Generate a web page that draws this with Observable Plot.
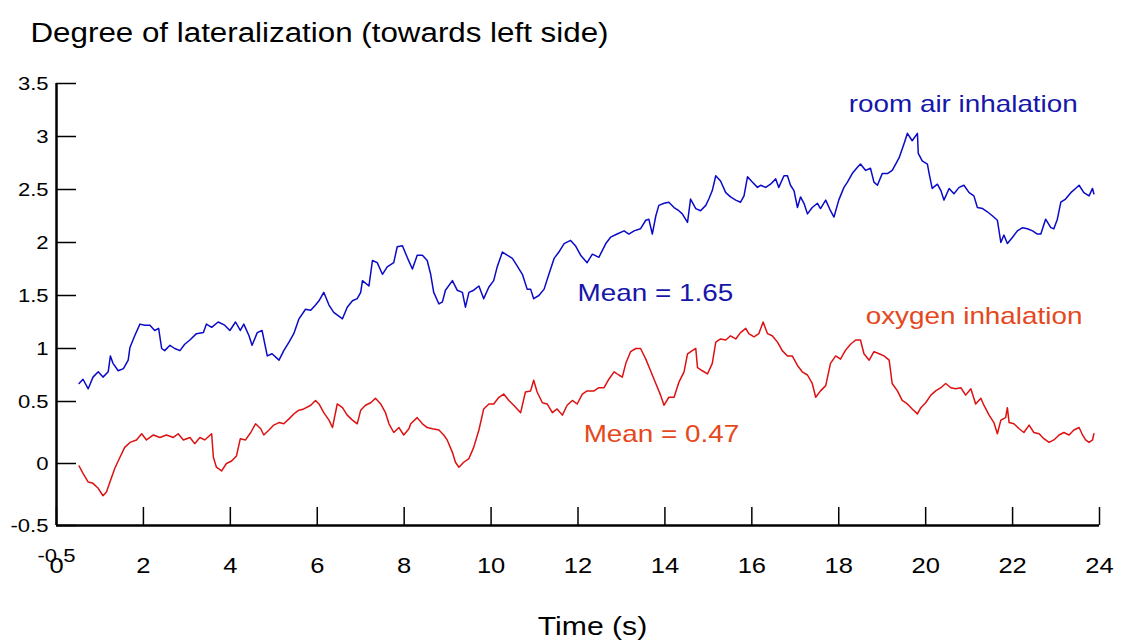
<!DOCTYPE html>
<html>
<head>
<meta charset="utf-8">
<script src="https://cdn.jsdelivr.net/npm/d3@7"></script>
<script src="https://cdn.jsdelivr.net/npm/@observablehq/plot@0.6"></script>
<style>
  body { margin: 0; background: #fff; }
  svg { display: block; }
</style>
</head>
<body>
<div id="chart"></div>
<script>
// ---- data ----
const roomAirTime = [0.52,0.61,0.73,0.84,0.96,1.07,1.19,1.24,1.30,1.42,1.54,1.65,1.69,1.80,1.92,2.03,2.15,2.26,2.35,2.42,2.49,2.61,2.72,2.84,2.95,3.07,3.22,3.38,3.45,3.57,3.72,3.87,3.99,4.12,4.23,4.31,4.43,4.50,4.62,4.73,4.85,4.96,5.12,5.23,5.35,5.46,5.58,5.73,5.85,5.96,6.04,6.15,6.27,6.38,6.58,6.69,6.81,6.92,7.00,7.04,7.19,7.27,7.38,7.50,7.61,7.76,7.84,7.96,8.07,8.19,8.30,8.42,8.53,8.61,8.68,8.80,8.88,8.95,9.11,9.22,9.34,9.41,9.49,9.60,9.72,9.83,9.95,10.06,10.14,10.26,10.37,10.49,10.60,10.72,10.83,10.91,10.98,11.10,11.22,11.33,11.45,11.56,11.68,11.83,11.94,12.06,12.21,12.33,12.48,12.64,12.75,12.90,13.06,13.17,13.29,13.44,13.56,13.63,13.71,13.79,13.86,13.98,14.09,14.21,14.32,14.40,14.52,14.59,14.71,14.82,14.94,15.01,15.09,15.17,15.28,15.40,15.51,15.63,15.74,15.82,15.90,16.01,16.13,16.20,16.32,16.43,16.55,16.62,16.74,16.82,16.89,16.97,17.05,17.12,17.20,17.28,17.39,17.51,17.58,17.70,17.81,17.89,18.00,18.12,18.20,18.31,18.43,18.50,18.62,18.73,18.81,18.89,19.00,19.12,19.23,19.31,19.39,19.50,19.58,19.69,19.81,19.83,19.92,20.04,20.08,20.15,20.27,20.35,20.42,20.54,20.65,20.77,20.88,21.00,21.11,21.19,21.31,21.42,21.54,21.65,21.73,21.80,21.88,22.00,22.11,22.23,22.34,22.46,22.57,22.65,22.76,22.88,22.95,23.03,23.11,23.22,23.34,23.45,23.53,23.64,23.76,23.84,23.87];
const roomAirValue = [0.67,0.71,0.62,0.73,0.78,0.73,0.78,0.93,0.86,0.79,0.81,0.89,1.01,1.12,1.23,1.22,1.22,1.17,1.19,1.00,0.98,1.03,1.00,0.98,1.04,1.08,1.14,1.15,1.23,1.20,1.25,1.22,1.17,1.25,1.17,1.23,1.12,1.03,1.15,1.17,0.93,0.95,0.89,0.98,1.06,1.14,1.28,1.37,1.36,1.41,1.45,1.53,1.41,1.34,1.28,1.39,1.45,1.47,1.53,1.64,1.59,1.83,1.81,1.70,1.77,1.81,1.96,1.97,1.86,1.75,1.88,1.88,1.83,1.70,1.53,1.42,1.44,1.55,1.64,1.55,1.53,1.39,1.53,1.55,1.59,1.47,1.58,1.64,1.77,1.91,1.88,1.85,1.78,1.70,1.56,1.56,1.47,1.50,1.56,1.70,1.85,1.91,1.99,2.02,1.97,1.88,1.81,1.89,1.86,1.99,2.05,2.08,2.11,2.08,2.11,2.13,2.21,2.22,2.08,2.25,2.35,2.37,2.38,2.33,2.30,2.27,2.19,2.41,2.32,2.30,2.35,2.41,2.49,2.63,2.58,2.47,2.43,2.40,2.38,2.44,2.62,2.57,2.52,2.54,2.52,2.55,2.60,2.52,2.63,2.63,2.54,2.49,2.33,2.43,2.37,2.27,2.33,2.37,2.32,2.40,2.30,2.24,2.40,2.52,2.57,2.65,2.71,2.74,2.68,2.70,2.57,2.54,2.65,2.65,2.68,2.74,2.80,2.93,3.03,2.96,3.03,2.84,2.77,2.74,2.65,2.51,2.55,2.49,2.40,2.51,2.46,2.52,2.54,2.47,2.44,2.33,2.32,2.29,2.25,2.21,2.00,2.07,1.99,2.05,2.11,2.14,2.13,2.11,2.08,2.08,2.22,2.14,2.13,2.22,2.38,2.41,2.47,2.51,2.54,2.47,2.44,2.51,2.46];

const oxygenTime = [0.52,0.61,0.73,0.84,0.96,1.07,1.15,1.23,1.34,1.46,1.57,1.69,1.84,1.96,2.07,2.23,2.38,2.53,2.69,2.80,2.92,3.07,3.18,3.30,3.41,3.57,3.61,3.68,3.80,3.91,4.03,4.14,4.23,4.35,4.47,4.58,4.70,4.77,4.89,5.00,5.12,5.23,5.35,5.46,5.58,5.69,5.85,5.96,6.04,6.15,6.27,6.35,6.46,6.58,6.69,6.81,6.92,7.00,7.11,7.23,7.34,7.46,7.57,7.65,7.76,7.88,7.99,8.11,8.15,8.30,8.42,8.53,8.65,8.80,8.91,8.99,9.11,9.18,9.26,9.37,9.49,9.60,9.72,9.83,9.95,10.06,10.18,10.29,10.41,10.52,10.68,10.79,10.91,10.98,11.06,11.18,11.29,11.41,11.52,11.64,11.75,11.87,11.98,12.10,12.21,12.37,12.48,12.60,12.71,12.83,12.94,13.02,13.10,13.21,13.33,13.44,13.56,13.67,13.79,13.90,13.98,14.09,14.21,14.32,14.44,14.52,14.63,14.71,14.75,14.86,14.98,15.09,15.17,15.28,15.40,15.51,15.63,15.74,15.86,15.93,16.05,16.16,16.26,16.36,16.47,16.59,16.70,16.82,16.93,17.05,17.16,17.28,17.39,17.47,17.58,17.70,17.81,17.93,18.04,18.15,18.27,18.39,18.50,18.58,18.70,18.81,18.93,19.04,19.16,19.23,19.35,19.46,19.58,19.69,19.81,19.89,20.00,20.12,20.23,20.35,20.46,20.58,20.69,20.81,20.92,21.04,21.15,21.27,21.34,21.46,21.57,21.65,21.73,21.84,21.88,21.92,22.03,22.15,22.26,22.38,22.49,22.61,22.72,22.84,22.95,23.07,23.18,23.30,23.41,23.53,23.61,23.68,23.76,23.84,23.87];
const oxygenValue = [-0.02,-0.08,-0.15,-0.16,-0.20,-0.26,-0.23,-0.15,-0.04,0.05,0.13,0.17,0.19,0.24,0.19,0.23,0.21,0.23,0.21,0.24,0.19,0.21,0.16,0.21,0.19,0.24,0.05,-0.03,-0.06,0.00,0.02,0.06,0.20,0.19,0.25,0.32,0.28,0.23,0.27,0.31,0.33,0.32,0.36,0.40,0.43,0.44,0.47,0.51,0.48,0.41,0.35,0.29,0.48,0.45,0.39,0.35,0.32,0.43,0.47,0.49,0.53,0.48,0.41,0.32,0.25,0.29,0.23,0.28,0.32,0.37,0.32,0.29,0.28,0.27,0.23,0.19,0.09,0.01,-0.03,0.01,0.04,0.13,0.27,0.44,0.48,0.48,0.54,0.57,0.51,0.47,0.41,0.59,0.60,0.70,0.59,0.49,0.48,0.41,0.44,0.39,0.47,0.51,0.48,0.57,0.60,0.60,0.63,0.63,0.71,0.78,0.75,0.73,0.86,0.97,1.00,1.00,0.90,0.79,0.67,0.56,0.47,0.54,0.54,0.68,0.78,0.95,0.98,1.00,0.82,0.79,0.76,0.86,1.06,1.09,1.08,1.12,1.09,1.15,1.19,1.14,1.11,1.14,1.25,1.14,1.12,1.06,0.98,0.93,0.93,0.84,0.78,0.75,0.67,0.54,0.60,0.65,0.86,0.93,0.90,0.98,1.04,1.08,1.08,0.95,0.89,0.97,0.95,0.93,0.89,0.67,0.60,0.51,0.48,0.44,0.40,0.45,0.49,0.56,0.60,0.63,0.67,0.63,0.62,0.63,0.56,0.62,0.48,0.53,0.47,0.39,0.33,0.24,0.35,0.37,0.45,0.33,0.32,0.28,0.25,0.31,0.25,0.24,0.20,0.17,0.19,0.23,0.25,0.23,0.27,0.29,0.23,0.19,0.17,0.19,0.24];

const xTicks = [0, 2, 4, 6, 8, 10, 12, 14, 16, 18, 20, 22, 24];
const yTicks = [-0.5, 0, 0.5, 1, 1.5, 2, 2.5, 3, 3.5];
const strayTickLabel = ["-0.5"];

const titleText = ["Degree of lateralization (towards left side)"];
const xLabelText = ["Time (s)"];
const seriesNames = ["room air inhalation", "oxygen inhalation"];
const meanLabels = ["Mean = 1.65", "Mean = 0.47"];

// ---- tables built from the arrays ----
const roomAir = roomAirTime.map((t, i) => ({t, v: roomAirValue[i]}));
const oxygen = oxygenTime.map((t, i) => ({t, v: oxygenValue[i]}));

const BLUE_LINE = "#0a0ac8";
const RED_LINE = "#dd1111";
const BLUE_TEXT = "#1616aa";
const RED_TEXT = "#e5481c";

const chart = Plot.plot({
  width: 1131,
  height: 642,
  marginLeft: 56,
  marginRight: 32,
  marginTop: 83,
  marginBottom: 117,
  style: {fontFamily: "'Liberation Sans', Arial, sans-serif", background: "#fff", color: "#000"},
  x: {type: "linear", domain: [0, 24]},
  // the reference's vertical axis is unevenly spaced below 0.5: piecewise-linear scale
  y: {type: "linear", domain: [-0.5, 0.5, 3.5], range: [525, 401, 83]},
  marks: [
    Plot.line(roomAir, {x: "t", y: "v", stroke: BLUE_LINE, strokeWidth: 1.5}),
    Plot.line(oxygen, {x: "t", y: "v", stroke: RED_LINE, strokeWidth: 1.5}),
    Plot.axisY({ticks: yTicks, tickSize: -20, tickPadding: 28, fontSize: 19, strokeWidth: 1.5,
                tickFormat: d => String(d), label: null}),
    Plot.axisX({ticks: xTicks, tickSize: -18, tickPadding: 50, fontSize: 22, strokeWidth: 1.5,
                tickFormat: d => String(d), label: null}),
    Plot.ruleX([0], {y1: -0.5, y2: 3.5, strokeWidth: 2.5}),
    Plot.ruleY([-0.5], {x1: 0, x2: 24, strokeWidth: 2.5}),
    Plot.text(strayTickLabel, {text: d => d, x: () => 0, y: () => -0.5, textAnchor: "start",
                dx: -19, dy: 30, fontSize: 19}),
    Plot.text(titleText, {text: d => d, frameAnchor: "top-left", textAnchor: "start",
                lineAnchor: "middle", dx: -26, dy: -50, fontSize: 27}),
    Plot.text(xLabelText, {text: d => d, frameAnchor: "bottom", lineAnchor: "middle",
                dx: 14.5, dy: 101, fontSize: 26}),
    Plot.text([seriesNames[0]], {text: d => d, x: () => 18.23, y: () => 3.30, textAnchor: "start",
                fill: BLUE_TEXT, fontSize: 24}),
    Plot.text([meanLabels[0]], {text: d => d, x: () => 11.99, y: () => 1.525, textAnchor: "start",
                fill: BLUE_TEXT, fontSize: 24}),
    Plot.text([seriesNames[1]], {text: d => d, x: () => 18.62, y: () => 1.30, textAnchor: "start",
                fill: RED_TEXT, fontSize: 24}),
    Plot.text([meanLabels[1]], {text: d => d, x: () => 12.13, y: () => 0.234, textAnchor: "start",
                fill: RED_TEXT, fontSize: 24})
  ]
});

document.getElementById("chart").append(chart);

// The reference's lettering is slightly stretched horizontally; widen every text to match.
const STRETCH = 1.16;
chart.querySelectorAll("text").forEach(el => {
  const w = el.getComputedTextLength();
  if (w > 0) {
    el.setAttribute("textLength", (w * STRETCH).toFixed(1));
    el.setAttribute("lengthAdjust", "spacingAndGlyphs");
  }
});
</script>
</body>
</html>
